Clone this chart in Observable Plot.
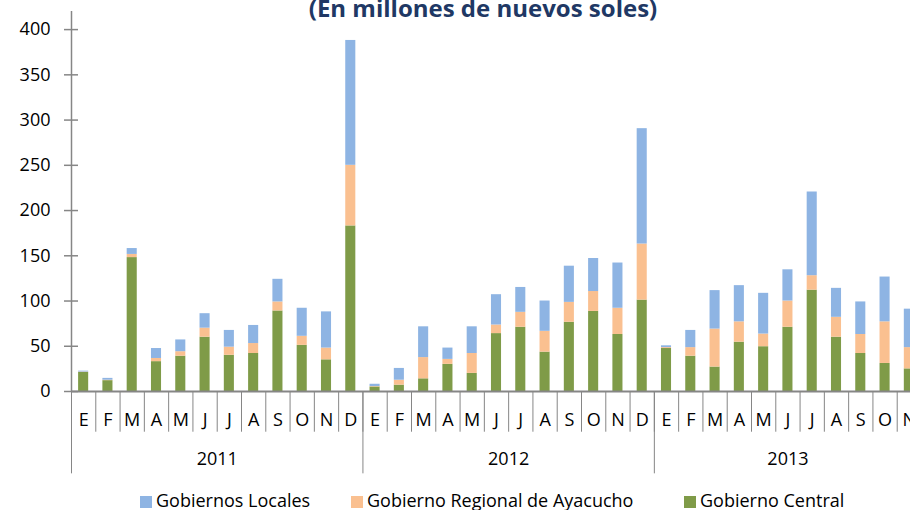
<!DOCTYPE html>
<html>
<head>
<meta charset="utf-8">
<script src="https://cdn.jsdelivr.net/npm/d3@7"></script>
<script src="https://cdn.jsdelivr.net/npm/@observablehq/plot@0.6"></script>
<style>
  html, body { margin: 0; padding: 0; overflow: hidden; background: #fff; }
  #wrap { position: relative; width: 921px; height: 510px; font-family: "Open Sans", sans-serif; }
  #title { position: absolute; left: 0; width: 966px; top: -4px; text-align: center; font-weight: 700; font-size: 24px; line-height: 24px; color: #203864; white-space: nowrap; }
  #chart { position: absolute; left: 0; top: 0; }
  #legend { position: absolute; top: 491px; left: 0; width: 910px; height: 18px; font-size: 18px; line-height: 18px; color: #000; }
  .item { position: absolute; white-space: nowrap; }
  .sw { display: inline-block; width: 12px; height: 12px; margin-right: 4px; vertical-align: -1px; }
</style>
</head>
<body>
<div id="wrap">
  <div id="chart"></div>
  <div id="title">(En millones de nuevos soles)</div>
  <div id="legend"></div>
</div>
<script>
// ---- data ----
const years = [2011, 2012, 2013];
const monthLetters = ["E", "F", "M", "A", "M", "J", "J", "A", "S", "O", "N", "D"];
const monthsPerYear = [12, 12, 11];
const seriesNames = ["Gobiernos Locales", "Gobierno Regional de Ayacucho", "Gobierno Central"];
const seriesColors = ["#8EB4E3", "#FAC090", "#7F9B48"];

const central2011 = [21, 12, 148, 33, 39, 60, 40, 42, 89, 51, 35, 183];
const central2012 = [5, 7, 14, 30, 20, 64, 71, 43.5, 76.5, 88.5, 63, 101];
const central2013 = [47.5, 39, 27, 54.5, 49.5, 71, 112, 60, 42, 31, 25];

const regional2011 = [0.5, 0.5, 3.5, 3.5, 5, 10, 9, 11, 10, 10, 13, 67];
const regional2012 = [0.5, 5.5, 23.5, 5.5, 22, 9.5, 16.5, 23, 22, 22, 29, 62];
const regional2013 = [1, 9.5, 42, 22.5, 14, 29, 16, 22, 21, 46, 23.5];

const local2011 = [1, 2, 6.5, 11, 13, 16, 18.5, 20, 25, 31, 40, 138];
const local2012 = [2.5, 13, 34, 12.5, 29.5, 33.5, 27.5, 33.5, 40, 36.5, 50, 127.5];
const local2013 = [2, 19, 42.5, 40, 45, 34.5, 92.5, 32, 36, 49.5, 42.5];

const yTicks = [0, 50, 100, 150, 200, 250, 300, 350, 400];

// ---- build tables ----
const centralByYear = [central2011, central2012, central2013];
const regionalByYear = [regional2011, regional2012, regional2013];
const localByYear = [local2011, local2012, local2013];

const periods = [];
years.forEach((yr, yi) => {
  for (let m = 0; m < monthsPerYear[yi]; m++) {
    periods.push({key: `${yr}-${m}`, year: yr, yi, m, letter: monthLetters[m]});
  }
});
const rows = [];
periods.forEach(p => {
  rows.push({key: p.key, series: seriesNames[2], value: centralByYear[p.yi][p.m]});
  rows.push({key: p.key, series: seriesNames[1], value: regionalByYear[p.yi][p.m]});
  rows.push({key: p.key, series: seriesNames[0], value: localByYear[p.yi][p.m]});
});
const yearInfo = years.map((yr, yi) => {
  const n = monthsPerYear[yi];
  return {year: yr, first: `${yr}-0`, mid: `${yr}-${Math.floor(n / 2)}`, even: n % 2 === 0};
});

const W = 921, ML = 71, MR = 0;
const step = (W - ML - MR) / periods.length;
const axisGray = "#868686";

const plot = Plot.plot({
  width: W,
  height: 480,
  marginLeft: ML,
  marginRight: MR,
  marginTop: 11,
  marginBottom: 89,
  style: {fontFamily: "'Open Sans', sans-serif", fontSize: "18px", color: "#000", background: "transparent"},
  x: {domain: periods.map(p => p.key), paddingInner: 0.585, paddingOuter: 0.2925, round: false, axis: null},
  y: {domain: [0, 420], axis: null},
  color: {domain: seriesNames, range: seriesColors},
  marks: [
    Plot.barY(rows, {x: "key", y: "value", fill: "series", order: [seriesNames[2], seriesNames[1], seriesNames[0]]}),
    // y axis labels
    Plot.axisY({ticks: yTicks, tickSize: 0, tickPadding: 21, fontSize: 18, fill: "#000", label: null}),
    // y axis tick marks crossing the axis line
    Plot.axisY({ticks: yTicks, tickSize: 14, dx: 7, tickFormat: () => "", stroke: axisGray, strokeWidth: 1.5, label: null}),
    // y axis line
    Plot.ruleX([periods[0].key], {dx: -step / 2, y1: 0, y2: 420, stroke: axisGray, strokeWidth: 1.5}),
    // baseline
    Plot.ruleY([0], {stroke: axisGray, strokeWidth: 2}),
    // month separators
    Plot.ruleX(periods, {x: "key", dx: -step / 2, y1: 0, y2: -45, stroke: axisGray, strokeWidth: 1}),
    // year separators
    Plot.ruleX(yearInfo, {x: "first", dx: -step / 2, y1: 0, y2: -91, stroke: axisGray, strokeWidth: 1}),
    // month letters
    Plot.text(periods, {x: "key", frameAnchor: "bottom", dy: 29, text: "letter", fontSize: 18, fill: "#000", lineAnchor: "middle"}),
    // year labels
    Plot.text(yearInfo.filter(d => d.even), {x: "mid", frameAnchor: "bottom", dx: -step / 2, dy: 68, text: d => String(d.year), fontSize: 18, fill: "#000", lineAnchor: "middle"}),
    Plot.text(yearInfo.filter(d => !d.even), {x: "mid", frameAnchor: "bottom", dy: 68, text: d => String(d.year), fontSize: 18, fill: "#000", lineAnchor: "middle"})
  ]
});
document.getElementById("chart").appendChild(plot);

// legend
const legendPos = [140, 351, 684];
const legend = document.getElementById("legend");
seriesNames.forEach((name, i) => {
  const it = document.createElement("div");
  it.className = "item";
  it.style.left = legendPos[i] + "px";
  const sw = document.createElement("span");
  sw.className = "sw";
  sw.style.background = seriesColors[i];
  it.appendChild(sw);
  it.appendChild(document.createTextNode(name));
  legend.appendChild(it);
});
</script>
</body>
</html>
